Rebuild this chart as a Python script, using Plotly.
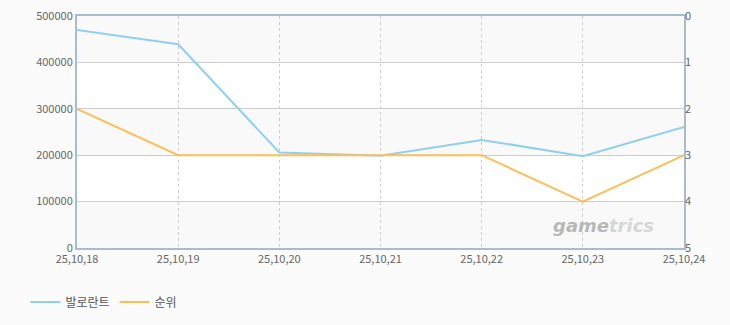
import plotly.graph_objects as go

dates = ["25,10,18", "25,10,19", "25,10,20", "25,10,21", "25,10,22", "25,10,23", "25,10,24"]
players = [470000, 439000, 206000, 199000, 233000, 198000, 261000]
ranks = [2, 3, 3, 3, 3, 4, 3]
xpos = list(range(len(dates)))

fig = go.Figure()
fig.add_trace(go.Scatter(x=xpos, y=players, name="발로란트", mode="lines",
                         line=dict(color="#8fd0f0", width=2)))
fig.add_trace(go.Scatter(x=xpos, y=ranks, name="순위", mode="lines", yaxis="y2",
                         line=dict(color="#fcbf5a", width=2)))

# alternating bands
for i, (a, b) in enumerate([(0, 100000), (100000, 200000), (200000, 300000), (300000, 400000), (400000, 500000)]):
    fig.add_shape(type="rect", xref="x domain", yref="y", x0=0, x1=1, y0=a, y1=b,
                  fillcolor="#f9f9f9" if i % 2 == 0 else "#ffffff", line_width=0, layer="below")

font = dict(family="Noto Sans CJK KR, DejaVu Sans", size=11, color="#666666")
fig.update_layout(
    width=730, height=325,
    margin=dict(l=77, r=46, t=16, b=77, autoexpand=False),
    paper_bgcolor="#fbfbfb", plot_bgcolor="#ffffff",
    font=font,
    showlegend=True,
    legend=dict(orientation="h", x=-0.085, xanchor="left", y=-0.17, yanchor="top",
                font=dict(size=12, color="#555555"), bgcolor="rgba(0,0,0,0)",
                itemwidth=30, tracegroupgap=0),
    xaxis=dict(range=[0, 6], tickvals=xpos, ticktext=dates, showgrid=True,
               gridcolor="#cccccc", griddash="3px,3px", gridwidth=1,
               showline=True, linecolor="#a8bccf", linewidth=2, mirror=True,
               zeroline=False, ticks="", tickfont=font, automargin=False),
    yaxis=dict(range=[0, 500000], dtick=100000, tickformat="d", showgrid=True,
               gridcolor="#cccccc", gridwidth=1, showline=True, linecolor="#a8bccf",
               linewidth=2, mirror=True, zeroline=False, ticks="", tickfont=font,
               automargin=False),
    yaxis2=dict(range=[5, 0], dtick=1, overlaying="y", side="right", showgrid=False,
                zeroline=False, showline=False, ticks="", tickfont=font, automargin=False),
)
fig.add_annotation(text="<i><b><span style='color:#b8b8b8'>game</span><span style='color:#d6d6d6'>trics</span></b></i>",
                   xref="paper", yref="paper",
                   x=0.867, y=0.045, xanchor="center", yanchor="bottom", showarrow=False,
                   font=dict(family="DejaVu Sans", size=18, color="#d0d0d0"))
fig.write_html("out.html")
